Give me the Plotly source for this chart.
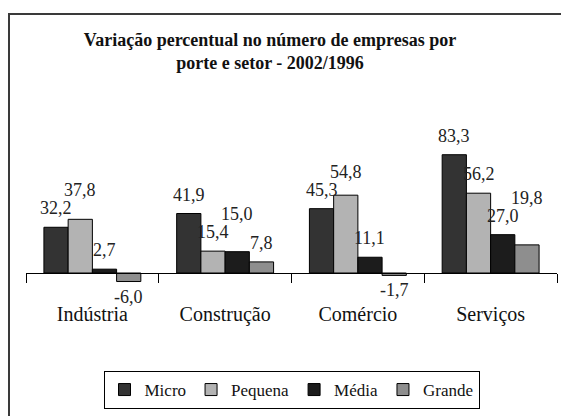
import plotly.graph_objects as go

# Variação percentual no número de empresas por porte e setor - 2002/1996
setores = ["Indústria", "Construção", "Comércio", "Serviços"]
micro   = [32.2, 41.9, 45.3, 83.3]
pequena = [37.8, 15.4, 54.8, 56.2]
media   = [2.7, 15.0, 11.1, 27.0]
grande  = [-6.0, 7.8, -1.7, 19.8]

series = [
    ("Micro",   micro,   "#333333"),
    ("Pequena", pequena, "#b3b3b3"),
    ("Média",   media,   "#1c1c1c"),
    ("Grande",  grande,  "#8e8e8e"),
]

FONT = "Liberation Serif"

W, H = 561, 416
PLOT_TOP, PLOT_BOT = 110, 300       # pixel rows of the plot area
ZERO_PX = 273                       # pixel row of y = 0
PX_PER_UNIT = 1.42
y_max = (ZERO_PX - PLOT_TOP) / PX_PER_UNIT
y_min = -(PLOT_BOT - ZERO_PX) / PX_PER_UNIT
plot_h = PLOT_BOT - PLOT_TOP
L, R = 26, 557
BARGAP = 0.27
bar_w = (R - L) / len(setores) * (1 - BARGAP) / len(series)

fig = go.Figure()
for name, vals, col in series:
    fig.add_trace(go.Bar(
        x=setores, y=vals, name=name,
        marker=dict(color=col, line=dict(color="#000000", width=1)),
        hoverinfo="x+y+name",
    ))

# value labels: above each bar (below for negatives); a label that would
# collide with its left neighbour is lifted above it
LABEL_GAP, LABEL_H = 19, 18
annotations = []
for ci, cat in enumerate(setores):
    prev_y = None
    for si, (name, vals, col) in enumerate(series):
        v = vals[ci]
        top_px = ZERO_PX - v * PX_PER_UNIT
        if v >= 0:
            lab_px = top_px - LABEL_GAP
            if prev_y is not None and abs(prev_y - lab_px) < LABEL_H:
                lab_px = min(lab_px, prev_y - LABEL_H)
            prev_y = lab_px
        else:
            lab_px = top_px + 15
        annotations.append(dict(
            x=cat, y=v, xref="x", yref="y",
            xshift=(si - (len(series) - 1) / 2) * bar_w,
            yshift=top_px - lab_px,
            text=f"{v:.1f}".replace(".", ","), showarrow=False,
            font=dict(family=FONT, size=18, color="#222222"),
            xanchor="center", yanchor="middle",
        ))

# paper-coordinate helpers
def px_x(p):
    return (p - L) / (R - L)

def px_y(p):
    return (PLOT_BOT - p) / plot_h

fig.update_layout(
    width=W, height=H,
    margin=dict(l=L, r=W - R, t=PLOT_TOP, b=H - PLOT_BOT, pad=0),
    paper_bgcolor="white", plot_bgcolor="white",
    barmode="group", bargap=BARGAP, bargroupgap=0,
    font=dict(family=FONT, color="#111111"),
    title=dict(
        text="Variação percentual no número de empresas por<br>porte e setor - 2002/1996",
        x=270 / W, xref="container", xanchor="center",
        y=1 - 46 / H, yref="container", yanchor="middle",
        font=dict(family=FONT, size=18, color="#111111", weight="bold"),
    ),
    showlegend=True,
    legend=dict(
        orientation="h", x=0.5, xanchor="center",
        y=px_y(371), yanchor="top",
        font=dict(family=FONT, size=17, color="#111111"),
        bordercolor="#000000", borderwidth=1, bgcolor="white",
        itemwidth=30, traceorder="normal",
    ),
    annotations=annotations,
    shapes=[dict(
        type="rect", xref="paper", yref="paper",
        x0=px_x(9), x1=px_x(570), y0=px_y(14), y1=px_y(430),
        line=dict(color="#3a3a3a", width=2), fillcolor="rgba(0,0,0,0)",
        layer="below",
    )],
)

fig.update_xaxes(
    anchor="free", position=(PLOT_BOT - ZERO_PX) / plot_h,
    showline=True, linecolor="#000000", linewidth=1,
    ticks="outside", tickson="boundaries", ticklen=9, tickcolor="#000000",
    ticklabelstandoff=23,
    tickfont=dict(family=FONT, size=20, color="#111111"),
    showgrid=False, zeroline=False,
)
fig.update_yaxes(
    range=[y_min, y_max], visible=False, showgrid=False, zeroline=False,
)

# the page's default body margin would shift the figure by 8px
fig.write_html(
    "out.html",
    config={"displayModeBar": False},
    post_script="document.body.style.margin='0px';",
)
